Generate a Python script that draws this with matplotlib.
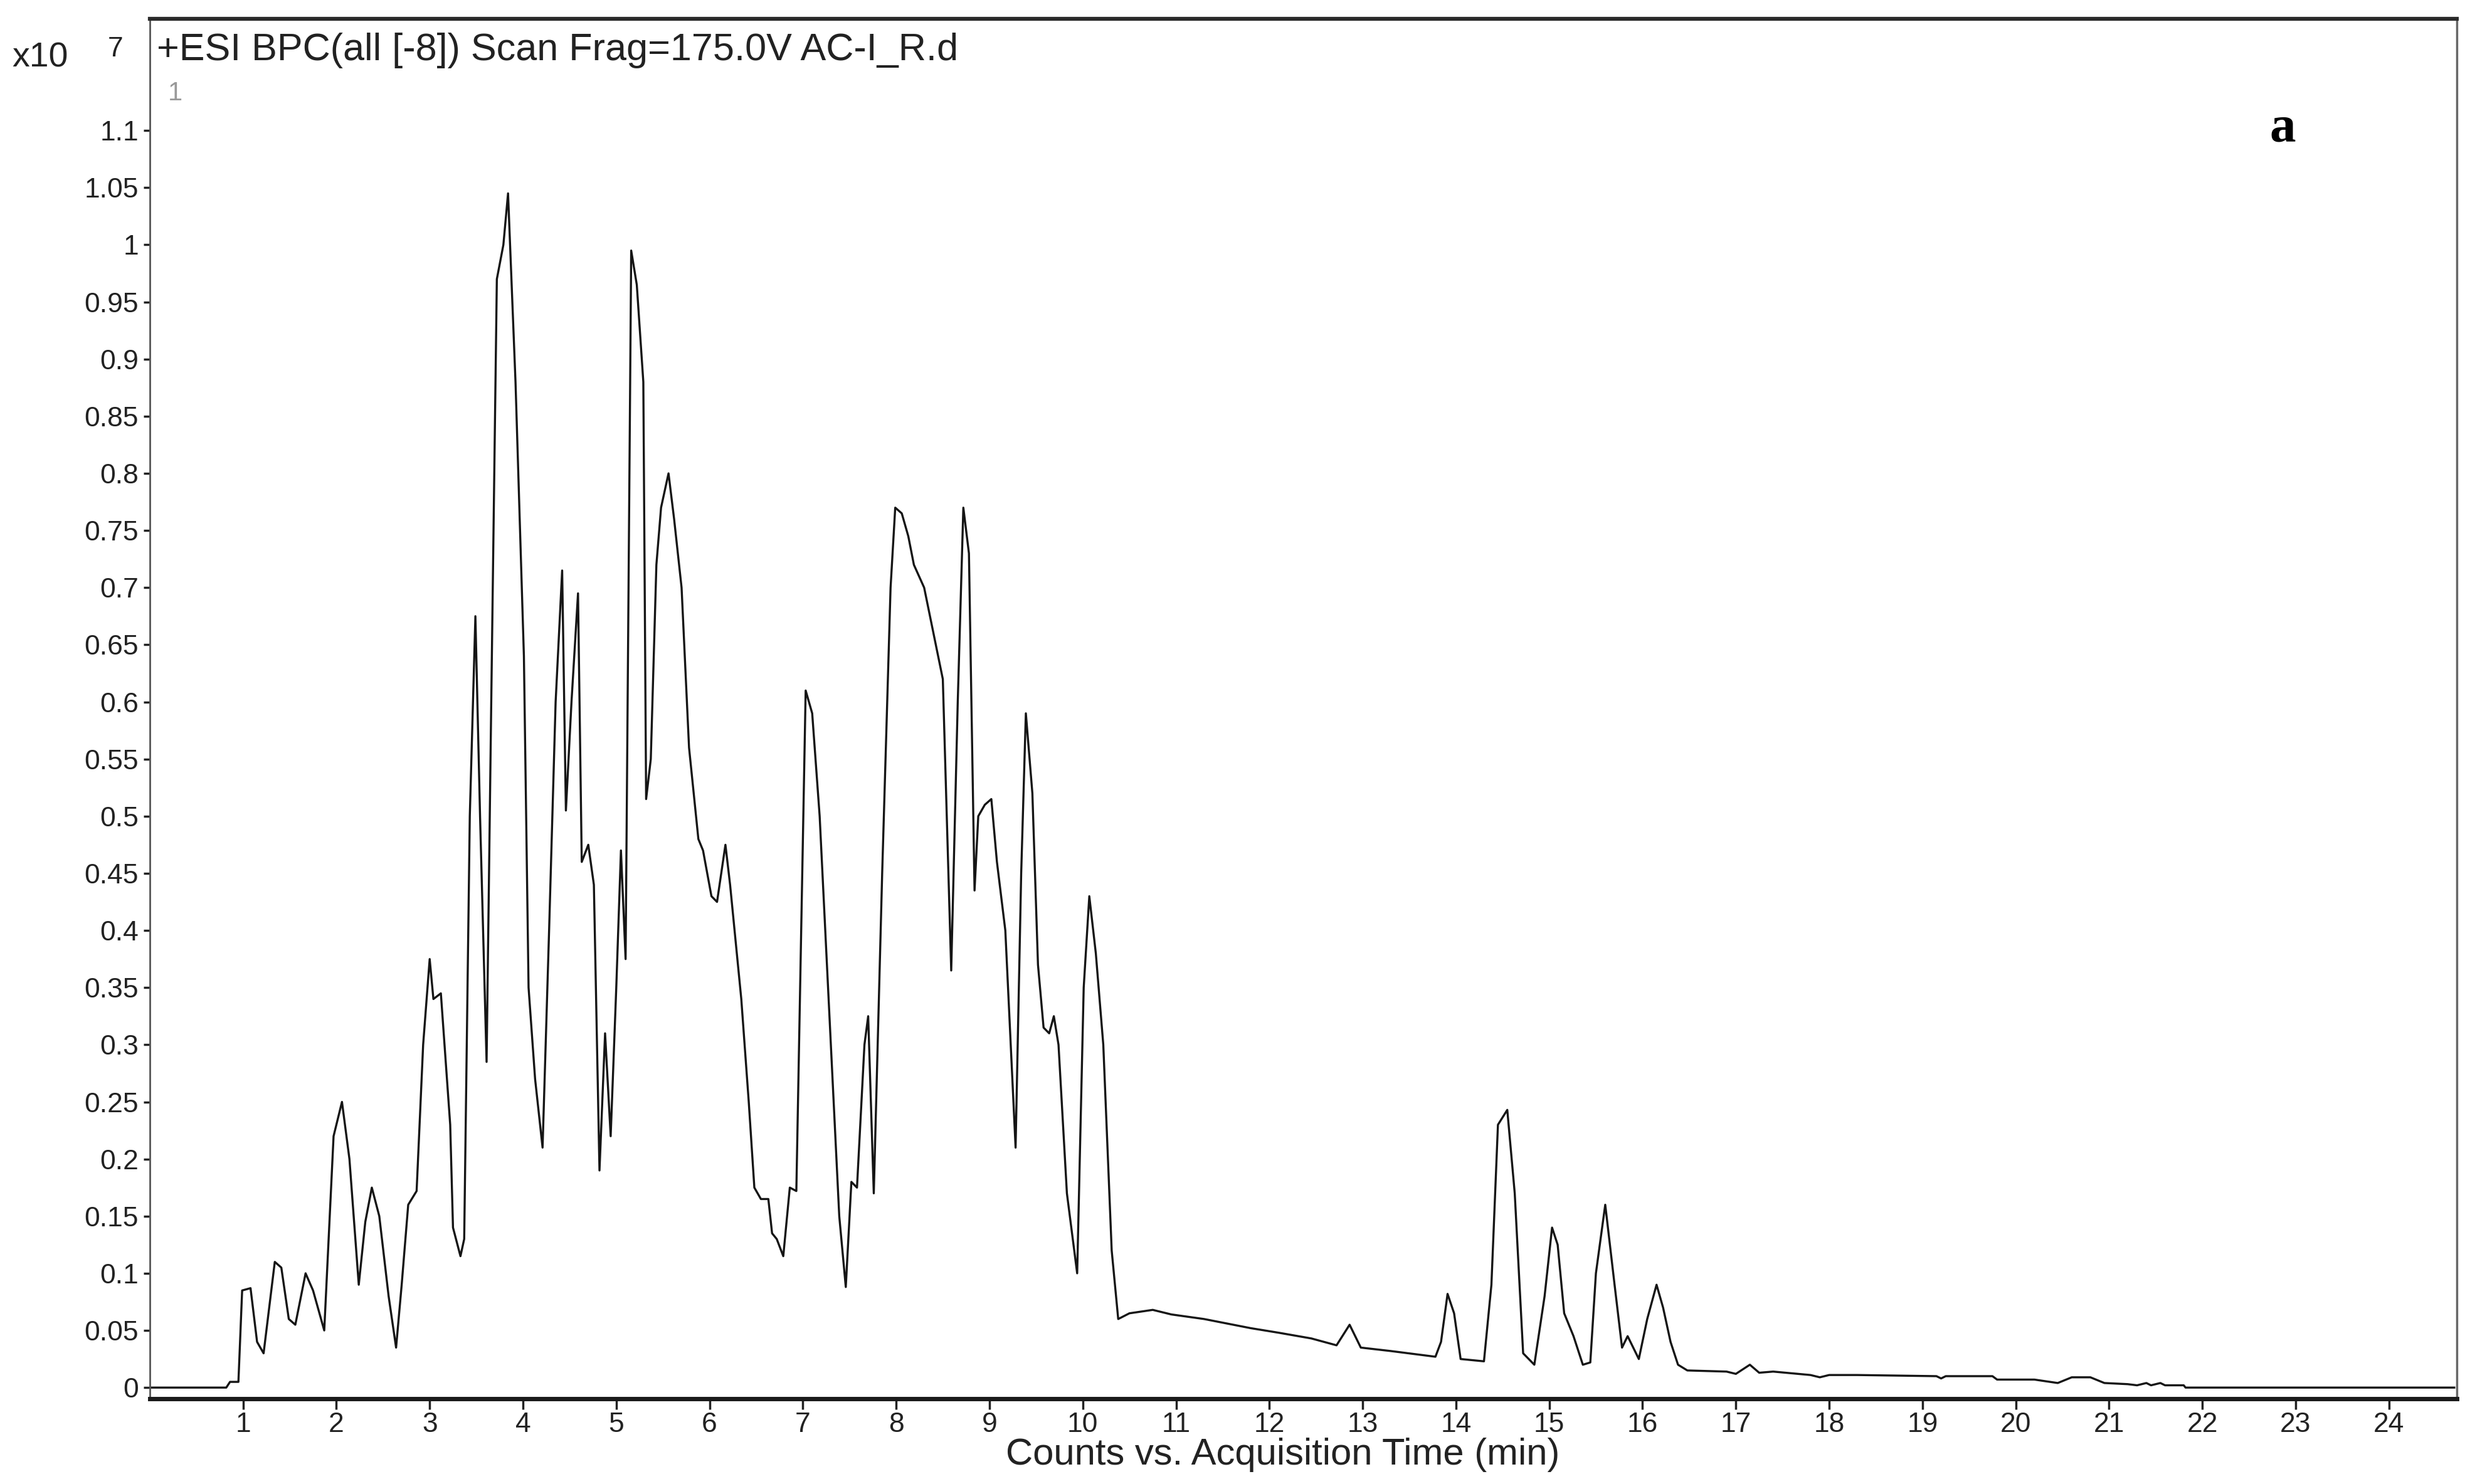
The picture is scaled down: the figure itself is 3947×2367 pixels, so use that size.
import matplotlib.pyplot as plt
from matplotlib.ticker import FuncFormatter

plt.rcParams['font.family'] = ['Liberation Sans', 'DejaVu Sans']

# retention time (min) and base peak counts (x10^7)
time_min = [0.0, 0.82, 0.86, 0.95, 0.99, 1.08, 1.15, 1.22, 1.34, 1.41, 1.49, 1.56, 1.67, 1.75,
            1.87, 1.97, 2.06, 2.14, 2.24, 2.31, 2.38, 2.46, 2.56, 2.64, 2.70, 2.77, 2.86, 2.93,
            3.0, 3.04, 3.12, 3.22, 3.25, 3.33, 3.37, 3.43, 3.49, 3.54, 3.61, 3.66, 3.72, 3.79,
            3.84, 3.92, 4.01, 4.06, 4.13, 4.21, 4.28, 4.35, 4.42, 4.46, 4.52, 4.59, 4.63, 4.70,
            4.76, 4.82, 4.88, 4.94, 5.0, 5.05, 5.10, 5.16, 5.22, 5.29, 5.32, 5.37, 5.43, 5.48,
            5.56, 5.62, 5.70, 5.78, 5.88, 5.93, 6.02, 6.08, 6.17, 6.22, 6.34, 6.42, 6.48, 6.55,
            6.63, 6.67, 6.72, 6.79, 6.86, 6.93, 7.03, 7.10, 7.18, 7.30, 7.39, 7.46, 7.52, 7.58,
            7.66, 7.70, 7.76, 7.85, 7.94, 7.99, 8.06, 8.13, 8.19, 8.30, 8.40, 8.50, 8.59, 8.66,
            8.72, 8.78, 8.84, 8.88, 8.95, 9.02, 9.08, 9.17, 9.28, 9.34, 9.39, 9.46, 9.52, 9.58,
            9.64, 9.69, 9.74, 9.83, 9.94, 10.01, 10.07, 10.14, 10.22, 10.31, 10.38, 10.5, 10.75,
            10.95, 11.3, 11.8, 12.1, 12.45, 12.72, 12.86, 12.98, 13.3, 13.78, 13.84, 13.91, 13.98,
            14.05, 14.3, 14.38, 14.45, 14.55, 14.63, 14.72, 14.84, 14.95, 15.03, 15.09, 15.16,
            15.26, 15.36, 15.44, 15.5, 15.6, 15.7, 15.78, 15.84, 15.9, 15.96, 16.05, 16.15, 16.22,
            16.3, 16.38, 16.48, 16.9, 17.0, 17.15, 17.25, 17.4, 17.8, 17.9, 18.0, 18.1, 18.3,
            19.15, 19.2, 19.25, 19.75, 19.8, 20.2, 20.45, 20.6, 20.8, 20.95, 21.2, 21.3, 21.4,
            21.45, 21.55, 21.6, 21.8, 21.82, 24.7]
counts = [0.0, 0.0, 0.005, 0.005, 0.085, 0.087, 0.04, 0.03, 0.11, 0.105, 0.06, 0.055, 0.1, 0.085,
          0.05, 0.22, 0.25, 0.2, 0.09, 0.145, 0.175, 0.15, 0.08, 0.035, 0.09, 0.16, 0.172, 0.3,
          0.375, 0.34, 0.345, 0.23, 0.14, 0.115, 0.13, 0.5, 0.675, 0.5, 0.285, 0.6, 0.97, 1.0,
          1.045, 0.88, 0.64, 0.35, 0.27, 0.21, 0.4, 0.6, 0.715, 0.505, 0.6, 0.695, 0.46, 0.475,
          0.44, 0.19, 0.31, 0.22, 0.35, 0.47, 0.375, 0.995, 0.965, 0.88, 0.515, 0.55, 0.72, 0.77,
          0.8, 0.76, 0.7, 0.56, 0.48, 0.47, 0.43, 0.425, 0.475, 0.44, 0.34, 0.25, 0.175, 0.165,
          0.165, 0.135, 0.13, 0.115, 0.175, 0.172, 0.61, 0.59, 0.5, 0.3, 0.15, 0.088, 0.18, 0.175,
          0.3, 0.325, 0.17, 0.45, 0.7, 0.77, 0.765, 0.745, 0.72, 0.7, 0.66, 0.62, 0.365, 0.6,
          0.77, 0.73, 0.435, 0.5, 0.51, 0.515, 0.46, 0.4, 0.21, 0.45, 0.59, 0.52, 0.37, 0.315,
          0.31, 0.325, 0.3, 0.17, 0.1, 0.35, 0.43, 0.38, 0.3, 0.12, 0.06, 0.065, 0.068,
          0.064, 0.06, 0.052, 0.048, 0.043, 0.037, 0.055, 0.035, 0.032, 0.027, 0.04, 0.082, 0.065,
          0.025, 0.023, 0.09, 0.23, 0.243, 0.17, 0.03, 0.02, 0.08, 0.14, 0.125, 0.065,
          0.045, 0.02, 0.022, 0.1, 0.16, 0.09, 0.035, 0.045, 0.035, 0.025, 0.06, 0.09, 0.07,
          0.04, 0.02, 0.015, 0.014, 0.012, 0.02, 0.013, 0.014, 0.011, 0.009, 0.011, 0.011, 0.011,
          0.01, 0.008, 0.01, 0.01, 0.007, 0.007, 0.004, 0.009, 0.009, 0.004, 0.003, 0.002, 0.004,
          0.002, 0.004, 0.002, 0.002, 0.0, 0.0]

x_ticks = list(range(1, 25))
y_ticks = [i * 0.05 for i in range(23)]

fig = plt.figure(figsize=(39.48, 23.67), dpi=100)
ax = fig.add_axes([0.0605, 0.0575, 0.932, 0.93])

ax.plot(time_min, counts, color='#151515', linewidth=2.4)

ax.set_xlim(0, 24.73)
ax.set_ylim(-0.0097, 1.198)
ax.set_xticks(x_ticks)
ax.set_yticks(y_ticks)
ax.yaxis.set_major_formatter(FuncFormatter(lambda v, p: f'{v:g}'))

ax.tick_params(axis='both', labelsize=32, colors='#222222', width=2.5)
ax.tick_params(axis='x', length=12, pad=3)
ax.tick_params(axis='y', length=7, pad=6)

ax.spines['bottom'].set_linewidth(5)
ax.spines['bottom'].set_color('#1a1a1a')
ax.spines['top'].set_linewidth(4.5)
ax.spines['top'].set_color('#2a2a2a')
ax.spines['left'].set_linewidth(2)
ax.spines['left'].set_color('#555555')
ax.spines['right'].set_linewidth(2.5)
ax.spines['right'].set_color('#666666')

ax.set_xlabel('Counts vs. Acquisition Time (min)', fontsize=43, color='#222222')
ax.xaxis.set_label_coords(0.491, -0.028)

ax.text(0.003, 0.99, '+ESI BPC(all [-8]) Scan Frag=175.0V AC-I_R.d', transform=ax.transAxes,
        fontsize=44, color='#222222', va='top', ha='left')
ax.text(0.008, 0.955, '1', transform=ax.transAxes, fontsize=30, color='#999999', va='top')
fig.text(0.005, 0.961, 'x10', fontsize=40, color='#222222', va='center')
fig.text(0.0435, 0.967, '7', fontsize=32, color='#222222', va='center')

ax.text(0.9245, 0.92, 'a', transform=ax.transAxes, fontsize=60, fontweight='bold',
        family='Liberation Serif', va='center', ha='center')

plt.savefig('out.png', dpi=100)
plt.close()
